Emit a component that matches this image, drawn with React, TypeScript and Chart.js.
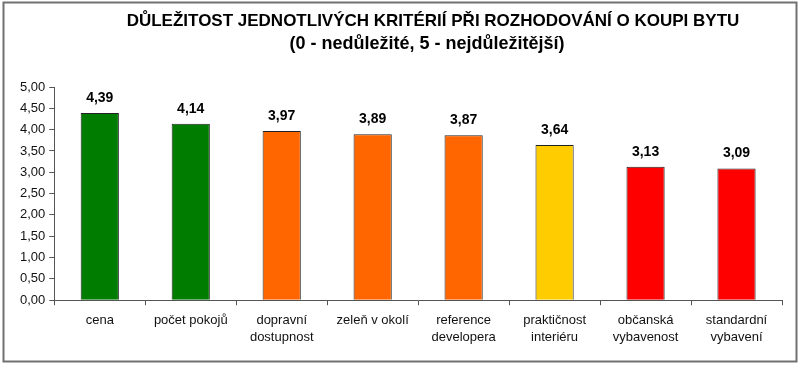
import React, { useEffect, useRef } from "react";
import { Chart, registerables } from "chart.js";

Chart.register(...registerables);

const TITLE_LINES = [
  "DŮLEŽITOST JEDNOTLIVÝCH KRITÉRIÍ PŘI ROZHODOVÁNÍ O KOUPI BYTU",
  "(0 - nedůležité, 5 - nejdůležitější)",
];
const CATEGORIES: string[][] = [
  ["cena"],
  ["počet pokojů"],
  ["dopravní", "dostupnost"],
  ["zeleň v okolí"],
  ["reference", "developera"],
  ["praktičnost", "interiéru"],
  ["občanská", "vybavenost"],
  ["standardní", "vybavení"],
];
const VALUES = [4.39, 4.14, 3.97, 3.89, 3.87, 3.64, 3.13, 3.09];
const BAR_COLORS = [
  "#007D00",
  "#007D00",
  "#FF6600",
  "#FF6600",
  "#FF6600",
  "#FFCC00",
  "#FF0000",
  "#FF0000",
];

const FONT = "'Liberation Sans', Arial, sans-serif";

const decorPlugin = {
  id: "decor",
  beforeDraw(chart: any) {
    const { ctx, width, height } = chart;
    ctx.save();
    ctx.fillStyle = "#ffffff";
    ctx.fillRect(0, 0, width, height);
    ctx.strokeStyle = "#707070";
    ctx.lineWidth = 2;
    ctx.strokeRect(3.5, 2.5, 793, 359);
    ctx.restore();
  },
  afterDraw(chart: any) {
    const { ctx } = chart;
    ctx.save();
    ctx.fillStyle = "#000000";
    ctx.textAlign = "center";
    ctx.textBaseline = "alphabetic";
    ctx.font = `bold 17px ${FONT}`;
    ctx.fillText(TITLE_LINES[0], 433, 26);
    ctx.font = `bold 18px ${FONT}`;
    ctx.fillText(TITLE_LINES[1], 427, 49);
    // value labels
    const meta = chart.getDatasetMeta(0);
    ctx.font = `bold 14px ${FONT}`;
    meta.data.forEach((bar: any, i: number) => {
      const txt = VALUES[i].toFixed(2).replace(".", ",");
      ctx.fillText(txt, bar.x, bar.y - 11);
    });
    ctx.restore();
  },
};

export default function App() {
  const ref = useRef<HTMLCanvasElement | null>(null);
  useEffect(() => {
    document.body.style.margin = "0";
    const chart = new Chart(ref.current!, {
      type: "bar",
      data: {
        labels: CATEGORIES,
        datasets: [
          {
            data: VALUES,
            backgroundColor: BAR_COLORS,
            borderColor: "#222222",
            borderWidth: 1,
            categoryPercentage: 1,
            barPercentage: 0.42,
          },
        ],
      },
      options: {
        animation: false,
        responsive: false,
        maintainAspectRatio: false,
        layout: { padding: { left: 16, right: 18, top: 87, bottom: 15 } },
        plugins: {
          legend: { display: false },
          title: { display: false },
          tooltip: { enabled: false },
        },
        scales: {
          x: {
            grid: {
              offset: true,
              drawOnChartArea: false,
              drawTicks: true,
              tickLength: 5,
              color: "#555555",
            },
            border: { color: "#555555", width: 1 },
            ticks: {
              color: "#111111",
              font: { family: FONT, size: 13, lineHeight: 1.3 },
              padding: 7,
              maxRotation: 0,
              autoSkip: false,
            },
          },
          y: {
            min: 0,
            max: 5,
            grid: {
              drawOnChartArea: false,
              drawTicks: true,
              tickLength: 5,
              color: "#555555",
            },
            border: { color: "#555555", width: 1 },
            ticks: {
              stepSize: 0.5,
              color: "#111111",
              font: { family: FONT, size: 13 },
              padding: 4,
              callback: (v: any) => Number(v).toFixed(2).replace(".", ","),
            },
          },
        },
      },
      plugins: [decorPlugin],
    });
    return () => chart.destroy();
  }, []);
  return (
    <div style={{ width: 800, height: 368 }}>
      <canvas ref={ref} width={800} height={368} style={{ display: "block" }} />
    </div>
  );
}
